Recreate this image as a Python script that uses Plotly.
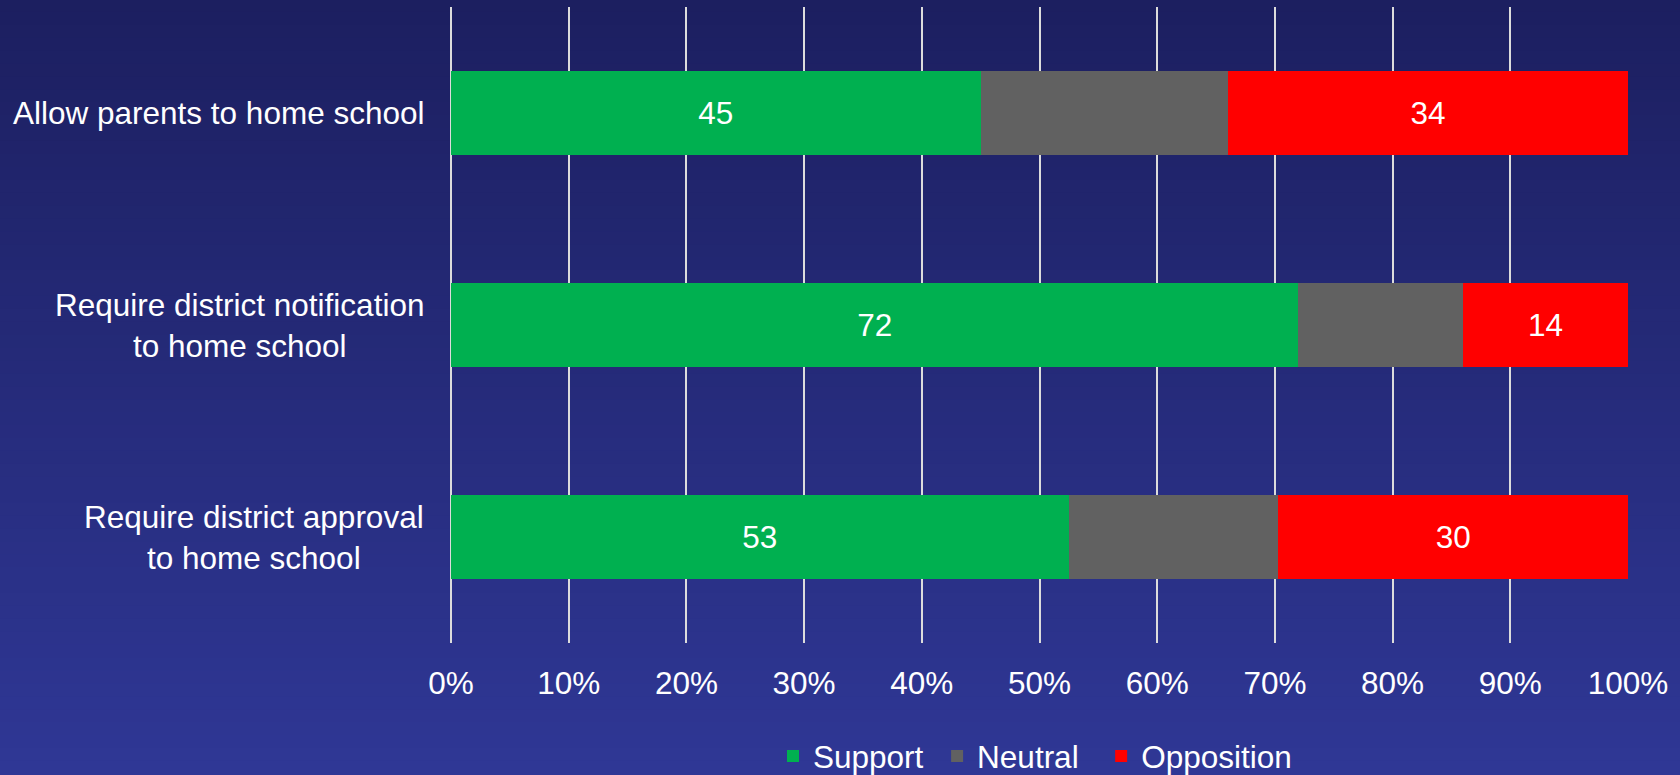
import plotly.graph_objects as go

categories = ["Allow parents to home school",
              "Require district notification<br>to home school",
              "Require district approval<br>to home school"]
series_names = ["Support", "Neutral", "Opposition"]
support = [45, 72, 53]
neutral = [21, 14, 18]
opposition = [34, 14, 30]
tick_vals = [0, 10, 20, 30, 40, 50, 60, 70, 80, 90, 100]
tick_text = ["0%", "10%", "20%", "30%", "40%", "50%", "60%", "70%", "80%", "90%", "100%"]

FONT = "Arial, Liberation Sans, sans-serif"
FS = 31.5
W, H = 1680, 775
L, R, T, B = 451, 52, 7, 132
ph = H - T - B

NB = "\u00a0"
legend_names = [series_names[0] + NB, series_names[1] + NB * 2, series_names[2]]

fig = go.Figure()
fig.add_trace(go.Bar(y=categories, x=support, name=legend_names[0], orientation="h",
                     marker=dict(color="#00b050", line=dict(width=0)),
                     text=[str(v) for v in support], texttemplate="%{text}",
                     textposition="inside", insidetextanchor="middle", textangle=0,
                     textfont=dict(color="white", size=FS, family=FONT)))
fig.add_trace(go.Bar(y=categories, x=neutral, name=legend_names[1], orientation="h",
                     marker=dict(color="#616161", line=dict(width=0))))
fig.add_trace(go.Bar(y=categories, x=opposition, name=legend_names[2], orientation="h",
                     marker=dict(color="#ff0000", line=dict(width=0)),
                     text=[str(v) for v in opposition], texttemplate="%{text}",
                     textposition="inside", insidetextanchor="middle", textangle=0,
                     textfont=dict(color="white", size=FS, family=FONT)))

# background gradient bands
top = (28, 31, 96)
bot = (47, 55, 149)
n = 60
y_lo = -B / ph
y_hi = 1 + T / ph
shapes = []
for i in range(n):
    f = i / (n - 1)
    c = tuple(round(top[k] + (bot[k] - top[k]) * f) for k in range(3))
    y1 = y_hi - (y_hi - y_lo) * i / n
    y0 = y_hi - (y_hi - y_lo) * (i + 1) / n
    shapes.append(dict(type="rect", xref="paper", yref="paper", x0=-1, x1=2,
                       y0=y0 - 0.002, y1=y1 + 0.002, fillcolor="rgb(%d,%d,%d)" % c,
                       line=dict(width=0), layer="below"))

annotations = []
for cat in categories:
    annotations.append(dict(xref="paper", yref="y", x=0, y=cat, xanchor="right",
                            xshift=-25, text=cat, showarrow=False, align="center",
                            font=dict(color="white", size=FS, family=FONT)))

fig.update_layout(
    width=W, height=H,
    margin=dict(l=L, r=R, t=T, b=B, pad=0),
    barmode="stack", barnorm="percent", bargap=0.6,
    paper_bgcolor="rgb(38,43,122)", plot_bgcolor="rgba(0,0,0,0)",
    shapes=shapes, annotations=annotations,
    font=dict(family=FONT, color="white", size=FS),
    xaxis=dict(range=[0, 100], tickvals=tick_vals, ticktext=tick_text,
               showgrid=True, gridcolor="#dcdcdc", gridwidth=1.5,
               zeroline=True, zerolinecolor="#dcdcdc", zerolinewidth=1.5,
               showline=False, ticks="",
               ticklabelstandoff=18,
               tickfont=dict(color="white", size=FS, family=FONT)),
    yaxis=dict(autorange="reversed", showticklabels=False, showgrid=False,
               zeroline=False, showline=False),
    legend=dict(orientation="h", xref="container", yref="container",
                x=(793 - 20) / W, xanchor="left",
                y=1 - 756 / H, yanchor="middle",
                font=dict(color="white", size=FS, family=FONT),
                bgcolor="rgba(0,0,0,0)", traceorder="normal", itemwidth=30),
    uniformtext=dict(mode=False),
)
fig.write_html("out.html", config={"displayModeBar": False},
               post_script="document.body.style.margin='0';document.body.style.overflow='hidden';")
